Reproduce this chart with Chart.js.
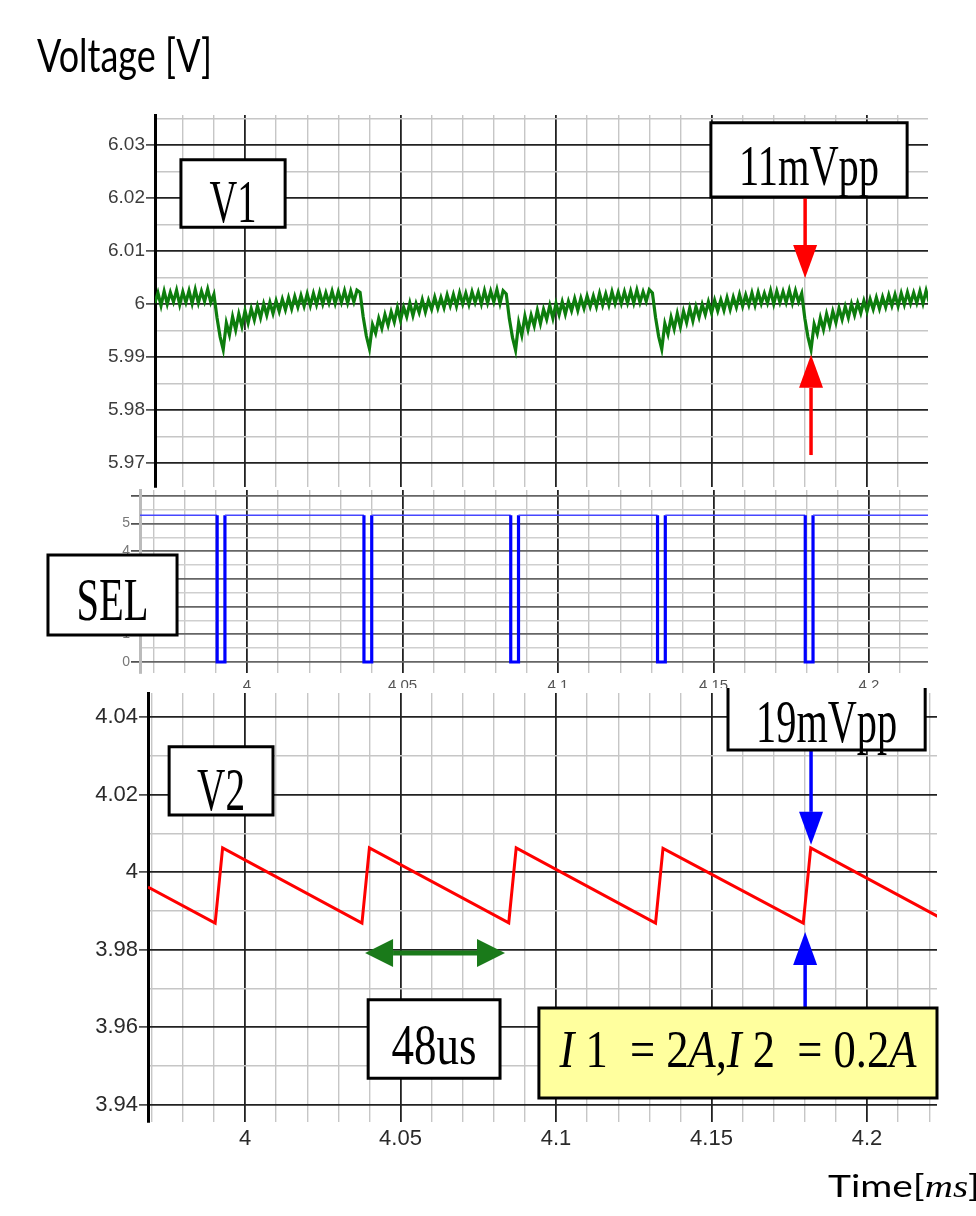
<!DOCTYPE html>
<html>
<head>
<meta charset="utf-8">
<script src="https://cdn.jsdelivr.net/npm/chart.js@4.4.1/dist/chart.umd.min.js"></script>
<style>
  html, body { margin: 0; padding: 0; background: #fff; }
  #wrap { position: relative; width: 976px; height: 1216px; overflow: hidden; }
  canvas { position: absolute; left: 0; background: #fff; }
</style>
</head>
<body>
<div id="wrap">
  <canvas id="sel" width="976" height="214" style="top:486px"></canvas>
  <canvas id="v1" width="976" height="489" style="top:0px"></canvas>
  <canvas id="v2" width="976" height="528" style="top:688px"></canvas>
</div>
<script>
// tick labels
const timeLabels = [4, 4.05, 4.1, 4.15, 4.2];
const v1Labels = [5.97, 5.98, 5.99, 6, 6.01, 6.02, 6.03];
const selLabels = [0, 1, 2, 3, 4, 5];
const v2Labels = [3.94, 3.96, 3.98, 4, 4.02, 4.04];

// V1 : scope samples every 1 us from 3.971 ms, in mV around 6 V
const v1Start = 3.971;
const v1Step = 0.001;
const v1mV = [
  0.2, 2.1, -0.3, 2.4, 0.0, 2.2, 0.4, 2.6, -0.1, 2.3, 0.3, 2.5, 0.1, 2.7, 0.2, 2.4, 0.5, 2.8, 0.3,
  // switch 1
  1.8, -2.6, -6.2, -8.6, -3.6, -5.8, -2.4, -4.9, -1.9, -4.2,
  -1.3, -3.6, -0.9, -3.0, -0.4, -2.6, 0.0, -2.1, 0.3, -1.8,
  0.6, -1.4, 0.9, -1.1, 1.2, -0.9, 1.4, -0.6, 1.6, -0.4,
  1.9, -0.3, 2.0, -0.1, 2.2, 0.0, 2.1, 0.2, 2.4, 0.1,
  2.3, 0.3, 2.5, 0.2, 2.4, 0.4, 2.6,
  // switch 2
  2.2, -2.4, -6.0, -8.4, -3.9, -5.5, -2.7, -4.6, -2.0, -4.0,
  -1.5, -3.4, -0.7, -3.1, -0.6, -2.4, 0.2, -2.2, 0.1, -1.6,
  0.8, -1.5, 0.7, -1.0, 1.3, -0.8, 1.2, -0.7, 1.7, -0.3,
  1.8, -0.4, 2.1, 0.0, 2.0, -0.1, 2.3, 0.3, 2.2, 0.0,
  2.5, 0.2, 2.4, 0.4, 2.7, 0.1, 2.5,
  // switch 3
  1.9, -2.8, -6.3, -8.7, -3.5, -5.9, -2.3, -4.8, -2.1, -4.1,
  -1.2, -3.7, -1.0, -2.9, -0.3, -2.7, 0.1, -2.0, 0.4, -1.9,
  0.5, -1.3, 1.0, -1.2, 1.1, -0.8, 1.5, -0.5, 1.5, -0.5,
  2.0, -0.2, 1.9, -0.2, 2.3, 0.1, 2.2, 0.1, 2.3, 0.2,
  2.4, 0.2, 2.6, 0.3, 2.3, 0.5, 2.7,
  // switch 4
  2.1, -2.5, -6.1, -8.5, -3.7, -5.7, -2.5, -4.7, -1.8, -4.3,
  -1.4, -3.5, -0.8, -3.2, -0.5, -2.5, -0.1, -2.0, 0.4, -1.7,
  0.7, -1.3, 0.8, -1.2, 1.2, -1.0, 1.3, -0.6, 1.8, -0.4,
  1.7, -0.2, 2.1, -0.2, 2.2, 0.1, 2.0, 0.2, 2.5, 0.0,
  2.4, 0.3, 2.3, 0.3, 2.6, 0.2, 2.5, 0.4,
  // switch 5
  2.0, -2.7, -6.2, -8.6, -3.8, -5.6, -2.6, -4.8, -1.9, -4.1,
  -1.4, -3.5, -0.8, -2.9, -0.5, -2.6, 0.0, -2.1, 0.2, -1.7,
  0.6, -1.4, 0.9, -1.0, 1.2, -0.9, 1.3, -0.6, 1.7, -0.3,
  1.8, -0.4, 2.0, -0.1, 2.2, 0.1, 2.1, 0.2, 2.4, 0.1,
  2.5, 0.3
];

// SEL : corners of the logic signal
const selTime = [3.9656, 3.9904, 3.9904, 3.9929, 3.9929, 4.0376, 4.0376, 4.0401, 4.0401,
  4.0848, 4.0848, 4.0873, 4.0873, 4.1320, 4.1320, 4.1345, 4.1345, 4.1795, 4.1795, 4.1820, 4.1820, 4.2190];
const selLevel = [5.3, 5.3, 0, 0, 5.3, 5.3, 0, 0, 5.3, 5.3, 0, 0, 5.3, 5.3, 0, 0, 5.3, 5.3, 0, 0, 5.3, 5.3];

// V2 : sawtooth corners
const v2Time = [3.9688, 3.9904, 3.9928, 4.0376, 4.0400, 4.0848, 4.0872, 4.1320, 4.1344, 4.1795, 4.1819, 4.2231];
const v2Volt = [3.9961, 3.9868, 4.0062, 3.9868, 4.0062, 3.9869, 4.0062, 3.9868, 4.0061, 3.9868, 4.0062, 3.9884];

const SERIF = "'Liberation Serif', 'Times New Roman', serif";
const SANS = "Lato, 'Open Sans', sans-serif";
const ARIAL = "'Liberation Sans', Arial, sans-serif";

const near = (v, step) => Math.abs(v / step - Math.round(v / step)) < 1e-6;
const pick = list => v => list.some(l => Math.abs(l - v) < 1e-7) ? String(+(+v).toFixed(2)) : '';

function fitText(ctx, parts, cx, base, cap, width, ratio) {
  const size = cap / (ratio || 0.655);
  const font = p => (p.it ? 'italic ' : '') + size + 'px ' + (p.fam || SERIF);
  let total = 0;
  parts.forEach(p => { ctx.font = font(p); p.w = ctx.measureText(p.t).width; total += p.w; });
  ctx.save();
  ctx.translate(cx - width / 2, base);
  ctx.scale(width / total, 1);
  ctx.fillStyle = '#000';
  ctx.textAlign = 'left';
  ctx.textBaseline = 'alphabetic';
  let x = 0;
  parts.forEach(p => { ctx.font = font(p); ctx.fillText(p.t, x, 0); x += p.w; });
  ctx.restore();
}

function arrowV(ctx, x, yTail, yTip, color) {
  const d = Math.sign(yTip - yTail), head = 33, half = 12;
  ctx.strokeStyle = color; ctx.fillStyle = color; ctx.lineWidth = 3.5;
  ctx.beginPath(); ctx.moveTo(x, yTail); ctx.lineTo(x, yTip - d * head); ctx.stroke();
  ctx.beginPath(); ctx.moveTo(x, yTip); ctx.lineTo(x - half, yTip - d * head); ctx.lineTo(x + half, yTip - d * head);
  ctx.closePath(); ctx.fill();
}

function arrowH2(ctx, xa, xb, y, color) {
  const head = 28, half = 14;
  ctx.strokeStyle = color; ctx.fillStyle = color; ctx.lineWidth = 5;
  ctx.beginPath(); ctx.moveTo(xa + head, y); ctx.lineTo(xb - head, y); ctx.stroke();
  ctx.beginPath(); ctx.moveTo(xa, y); ctx.lineTo(xa + head, y - half); ctx.lineTo(xa + head, y + half); ctx.closePath(); ctx.fill();
  ctx.beginPath(); ctx.moveTo(xb, y); ctx.lineTo(xb - head, y - half); ctx.lineTo(xb - head, y + half); ctx.closePath(); ctx.fill();
}

// boxes, arrows and captions, anchored in data units
function notes(spec) {
  return {
    id: 'notes',
    afterDraw(chart) {
      const ctx = chart.ctx, sx = chart.scales.x, sy = chart.scales.y;
      const X = v => sx.getPixelForValue(v), Y = v => sy.getPixelForValue(v);
      ctx.save();
      (spec.arrows || []).forEach(a => arrowV(ctx, X(a.t), Y(a.from), Y(a.to), a.color));
      (spec.double || []).forEach(a => arrowH2(ctx, X(a.t0), X(a.t1), Y(a.v), a.color));
      (spec.boxes || []).forEach(b => {
        const x0 = X(b.t0), x1 = X(b.t1), y0 = Y(b.v1), y1 = Y(b.v0);
        ctx.fillStyle = b.fill || '#fff';
        ctx.fillRect(x0, y0, x1 - x0, y1 - y0);
        ctx.strokeStyle = '#000';
        ctx.lineWidth = 3;
        ctx.beginPath();
        if (b.open) {
          ctx.moveTo(x0, y0); ctx.lineTo(x0, y1); ctx.lineTo(x1, y1); ctx.lineTo(x1, y0);
        } else {
          ctx.rect(x0, y0, x1 - x0, y1 - y0);
        }
        ctx.stroke();
        fitText(ctx, b.parts, (x0 + x1) / 2, y1 - b.pad, b.cap, b.w);
      });
      (spec.captions || []).forEach(c => fitText(ctx, c.parts, c.x + c.w / 2, c.base, c.cap, c.w, c.ratio));
      ctx.restore();
    }
  };
}

function timeAxis(min, max, labels, font, color, height) {
  return {
    type: 'linear', min: min, max: max,
    border: { display: false },
    grid: {
      color: c => c.tick && near(c.tick.value, 0.05) ? '#222' : '#c6c6c6',
      lineWidth: c => c.tick && near(c.tick.value, 0.05) ? 1.8 : 1.4,
      drawTicks: false
    },
    ticks: {
      stepSize: 0.01, autoSkip: false, maxRotation: 0, includeBounds: false,
      display: labels, padding: 4, font: font, color: color,
      callback: pick(timeLabels)
    },
    afterFit: s => { s.height = height; s.paddingLeft = 0; s.paddingRight = 0; }
  };
}

function voltAxis(min, max, step, major, labels, width, font, color, borderColor, majorColor, minorColor) {
  return {
    type: 'linear', min: min, max: max,
    border: { display: true, color: borderColor, width: 3 },
    grid: {
      color: c => c.tick && near(c.tick.value, major) ? majorColor : minorColor,
      lineWidth: c => c.tick && near(c.tick.value, major) ? 1.8 : 1.4,
      tickColor: c => c.tick && near(c.tick.value, major) ? '#333' : 'rgba(0,0,0,0)',
      tickLength: 9, tickWidth: 1.5
    },
    ticks: {
      stepSize: step, autoSkip: false, includeBounds: false, padding: 1,
      font: font, color: color, callback: pick(labels)
    },
    afterFit: s => { s.width = width; s.paddingTop = 0; s.paddingBottom = 0; }
  };
}

const base = {
  responsive: false, animation: false, devicePixelRatio: 1,
  plugins: { legend: { display: false }, tooltip: { enabled: false } },
  elements: { point: { radius: 0 }, line: { tension: 0 } }
};

new Chart(document.getElementById('v1'), {
  type: 'line',
  data: {
    datasets: [{
      data: v1mV.map((v, i) => ({ x: v1Start + i * v1Step, y: 6 + v / 1000 })),
      borderColor: '#0d7d0d', borderWidth: 3.2, borderJoinStyle: 'miter'
    }]
  },
  options: Object.assign({}, base, {
    layout: { padding: { top: 115, bottom: 2, left: 0, right: 48 } },
    scales: {
      x: timeAxis(3.97106, 4.21961, false, { size: 1 }, '#000', 0),
      y: voltAxis(5.96547, 6.03566, 0.005, 0.01, v1Labels, 155,
        { family: ARIAL, size: 19 }, '#3c3c3c', '#000', '#222', '#c6c6c6')
    }
  }),
  plugins: [notes({
    boxes: [
      { t0: 3.9794, t1: 4.0129, v0: 6.0145, v1: 6.0272, parts: [{ t: 'V1' }], cap: 40, w: 47, pad: 5 },
      { t0: 4.1498, t1: 4.2129, v0: 6.0202, v1: 6.0342, parts: [{ t: '11mVpp' }], cap: 38, w: 140, pad: 12 }
    ],
    arrows: [
      { t: 4.1801, from: 6.0202, to: 6.0049, color: '#ff0000' },
      { t: 4.1820, from: 5.9715, to: 5.9904, color: '#ff0000' }
    ],
    captions: [
      { x: 37, base: 72, cap: 33, w: 175, ratio: 0.7165, parts: [{ t: 'Voltage [V]', fam: SANS }] }
    ]
  })]
});

new Chart(document.getElementById('sel'), {
  type: 'line',
  data: {
    datasets: [{
      data: selTime.map((t, i) => ({ x: t, y: selLevel[i] })),
      borderColor: '#0000ff', borderWidth: 3.2,
      segment: {
        borderWidth: s => (s.p0.parsed.y > 2 && s.p1.parsed.y > 2) ? 1.6 : 3.2,
        borderColor: s => (s.p0.parsed.y > 2 && s.p1.parsed.y > 2) ? '#4646ff' : '#0000ff'
      }
    }]
  },
  options: Object.assign({}, base, {
    layout: { padding: { top: 4, bottom: 5, left: 0, right: 48 } },
    scales: {
      x: timeAxis(3.96559, 4.21897, true, { family: ARIAL, size: 15 }, '#555', 22),
      y: voltAxis(-0.397, 6.209, 0.5, 1, selLabels, 140,
        { family: ARIAL, size: 14 }, '#777', '#bbb', '#666', '#cfcfcf')
    }
  }),
  plugins: [notes({
    boxes: [
      { t0: 3.9360, t1: 3.9775, v0: 0.975, v1: 3.863, parts: [{ t: 'SEL' }], cap: 40, w: 72, pad: 15 }
    ]
  })]
});

new Chart(document.getElementById('v2'), {
  type: 'line',
  data: {
    datasets: [{
      data: v2Time.map((t, i) => ({ x: t, y: v2Volt[i] })),
      borderColor: '#ff0000', borderWidth: 3
    }]
  },
  options: Object.assign({}, base, {
    layout: { padding: { top: 5, bottom: 56, left: 0, right: 39 } },
    scales: {
      x: timeAxis(3.96881, 4.2225, true, { family: ARIAL, size: 22 }, '#2a2a2a', 38),
      y: voltAxis(3.93548, 4.04619, 0.01, 0.02, v2Labels, 148,
        { family: ARIAL, size: 22 }, '#2a2a2a', '#000', '#222', '#c6c6c6')
    }
  }),
  plugins: [notes({
    double: [{ t0: 4.0386, t1: 4.0836, v: 3.9791, color: '#1a7a1a' }],
    arrows: [
      { t: 4.1820, from: 4.0315, to: 4.0070, color: '#0000ff' },
      { t: 4.1801, from: 3.9649, to: 3.9845, color: '#0000ff' }
    ],
    boxes: [
      { t0: 3.9756, t1: 4.0090, v0: 4.0147, v1: 4.0323, parts: [{ t: 'V2' }], cap: 40, w: 48, pad: 5 },
      { t0: 4.1553, t1: 4.2187, v0: 4.0315, v1: 4.052, open: true, parts: [{ t: '19mVpp' }], cap: 40, w: 141, pad: 8 },
      { t0: 4.0396, t1: 4.0820, v0: 3.9468, v1: 3.9670, parts: [{ t: '48us' }], cap: 38, w: 85, pad: 14 },
      { t0: 4.0945, t1: 4.2225, v0: 3.9417, v1: 3.9649, fill: '#ffff9e', cap: 35, w: 357, pad: 31,
        parts: [{ t: 'I', it: true }, { t: ' 1  = 2' }, { t: 'A', it: true }, { t: ',' }, { t: 'I', it: true },
                { t: ' 2  = 0.2' }, { t: 'A', it: true }] }
    ],
    captions: [
      { x: 828, base: 509, cap: 22, w: 152, ratio: 0.7165,
        parts: [{ t: 'Time[', fam: SANS }, { t: 'ms', it: true, fam: SERIF }, { t: ']', fam: SANS }] }
    ]
  })]
});
</script>
</body>
</html>
